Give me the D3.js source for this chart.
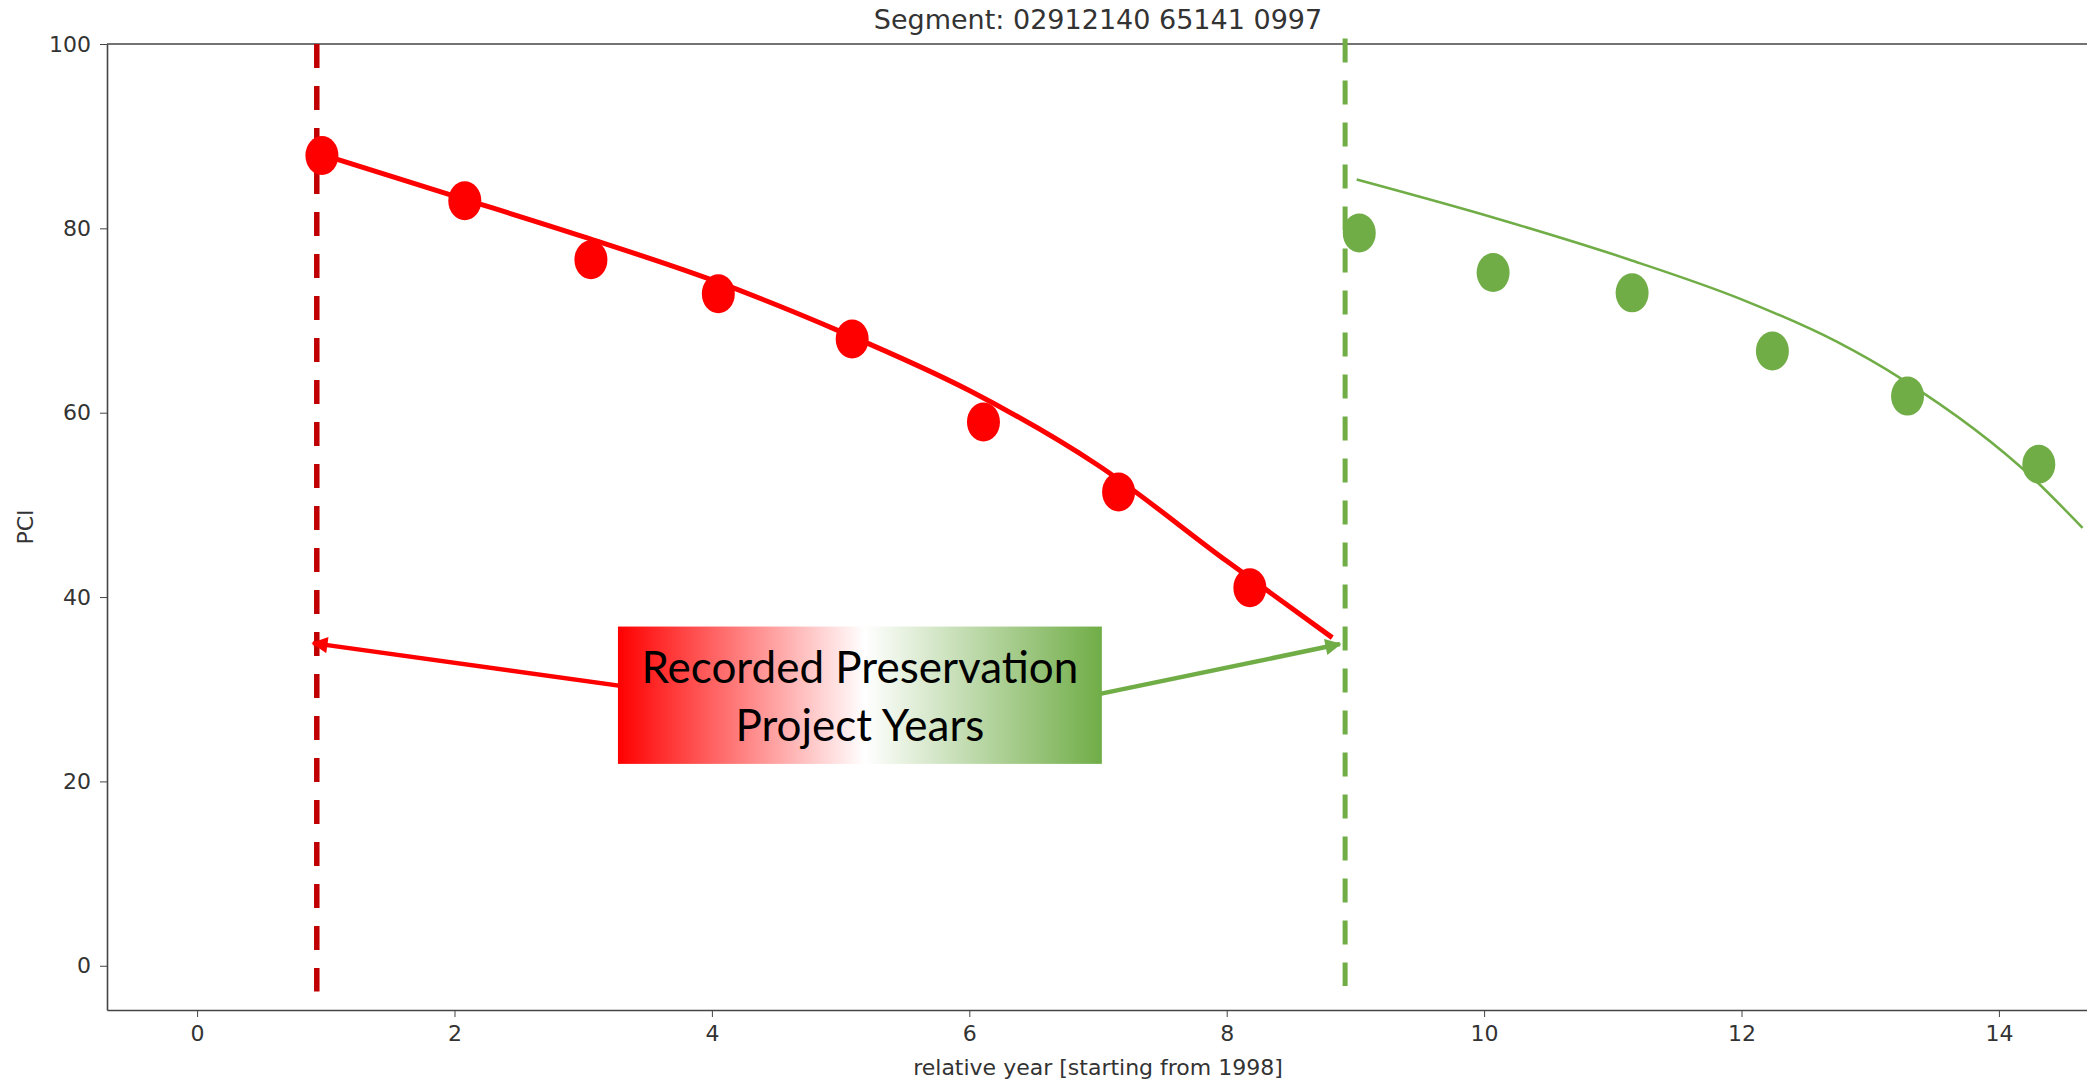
<!DOCTYPE html>
<html>
<head>
<meta charset="utf-8">
<script src="https://cdn.jsdelivr.net/npm/d3@7"></script>
<style>
  html, body { margin: 0; padding: 0; background: #fff; }
  svg { display: block; }
  .axis text { font-family: "DejaVu Sans", sans-serif; font-size: 22px; fill: #333; }
  .axis path, .axis line { stroke: #444; }
  .lbl { font-family: "DejaVu Sans", sans-serif; fill: #333; }
</style>
</head>
<body>
<svg id="chart" width="2087" height="1082"></svg>
<script>
// observed PCI (red = before project, green = after)
const redYears = [0.97, 2.08, 3.06, 4.05, 5.09, 6.11, 7.16, 8.18];
const redPCI = [87.9, 83.0, 76.6, 72.9, 68.0, 59.0, 51.4, 41.0];
const greenYears = [9.03, 10.07, 11.15, 12.24, 13.29, 14.31];
const greenPCI = [79.5, 75.2, 73.0, 66.7, 61.8, 54.4];

// fitted curves
const redFitYears = [0.97, 2, 3, 4, 5, 6, 7, 8, 8.82];
const redFitPCI = [88.0, 83.5, 79.1, 74.4, 68.8, 62.4, 54.3, 43.9, 35.6];
const greenFitYears = [9.01, 10.09, 11.13, 12.0, 12.74, 13.24, 14.28, 14.65];
const greenFitPCI = [85.3, 81.1, 76.6, 72.3, 67.7, 63.7, 52.7, 47.5];

// recorded preservation project years
const projectYears = [0.93, 8.92];
const projectTop = [100, 100.6];
const projectBottom = [-2.8, -2.2];

const xTicks = [0, 2, 4, 6, 8, 10, 12, 14];
const yTicks = [0, 20, 40, 60, 80, 100];

const title = 'Segment: 02912140 65141 0997';
const xTitle = 'relative year [starting from 1998]';
const yTitle = 'PCI';
const noteLines = ['Recorded Preservation', 'Project Years'];

const RED = '#ff0000', DARKRED = '#c00000', GREEN = '#70ad47';

const svg = d3.select('#chart');
const mL = 107, mR = 2089, mT = 44, mB = 1010;

const x = d3.scaleLinear().domain([-0.7, 14.7]).range([mL, mR]);
const y = d3.scaleLinear().domain([-4.8, 100]).range([mB, mT]);

// axes
svg.append('g')
  .attr('class', 'axis')
  .attr('transform', 'translate(0,' + mB + ')')
  .call(d3.axisBottom(x).tickValues(xTicks).tickSize(7).tickPadding(8).tickSizeOuter(0))
  .call(g => g.select('.domain').attr('stroke-width', 1.6));

svg.append('g')
  .attr('class', 'axis')
  .attr('transform', 'translate(' + mL + ',0)')
  .call(d3.axisLeft(y).tickValues(yTicks).tickSize(7).tickPadding(9).tickSizeOuter(0))
  .call(g => g.select('.domain').attr('stroke-width', 1.6));

svg.append('line')
  .attr('x1', mL).attr('x2', mR)
  .attr('y1', mT).attr('y2', mT)
  .attr('stroke', '#444').attr('stroke-width', 1.6);

svg.append('text').attr('class', 'lbl')
  .attr('x', (mL + mR) / 2).attr('y', 29)
  .attr('text-anchor', 'middle').attr('font-size', 27)
  .text(title);

svg.append('text').attr('class', 'lbl')
  .attr('x', (mL + mR) / 2).attr('y', 1075)
  .attr('text-anchor', 'middle').attr('font-size', 22)
  .text(xTitle);

svg.append('text').attr('class', 'lbl')
  .attr('transform', 'translate(33,' + ((mT + mB) / 2) + ') rotate(-90)')
  .attr('text-anchor', 'middle').attr('font-size', 22)
  .text(yTitle);

// project year dashed lines
const projColors = [DARKRED, GREEN];
projectYears.forEach((yr, i) => {
  svg.append('line')
    .attr('x1', x(yr)).attr('x2', x(yr))
    .attr('y1', y(projectTop[i])).attr('y2', y(projectBottom[i]))
    .attr('stroke', projColors[i])
    .attr('stroke-width', i === 0 ? 5.5 : 5)
    .attr('stroke-dasharray', '24 18');
});

const line = d3.line().x(d => x(d[0])).y(d => y(d[1])).curve(d3.curveMonotoneX);

svg.append('path')
  .datum(d3.zip(redFitYears, redFitPCI))
  .attr('d', line)
  .attr('fill', 'none').attr('stroke', RED).attr('stroke-width', 5);

svg.append('path')
  .datum(d3.zip(greenFitYears, greenFitPCI))
  .attr('d', line)
  .attr('fill', 'none').attr('stroke', GREEN).attr('stroke-width', 2.5);

svg.selectAll('.pt-red')
  .data(d3.zip(redYears, redPCI)).enter()
  .append('ellipse')
  .attr('class', 'pt-red')
  .attr('cx', d => x(d[0])).attr('cy', d => y(d[1]))
  .attr('rx', 16.5).attr('ry', 19.5)
  .attr('fill', RED);

svg.selectAll('.pt-green')
  .data(d3.zip(greenYears, greenPCI)).enter()
  .append('ellipse')
  .attr('class', 'pt-green')
  .attr('cx', d => x(d[0])).attr('cy', d => y(d[1]))
  .attr('rx', 16.5).attr('ry', 19.5)
  .attr('fill', GREEN);

// arrows from the note box to the project lines
const defs = svg.append('defs');
[['arrRed', RED], ['arrGreen', GREEN]].forEach(([id, c]) => {
  defs.append('marker')
    .attr('id', id)
    .attr('viewBox', '0 0 10 10')
    .attr('refX', 9).attr('refY', 5)
    .attr('markerWidth', 4.2).attr('markerHeight', 3.6)
    .attr('markerUnits', 'strokeWidth')
    .attr('orient', 'auto')
    .append('path').attr('d', 'M0,0 L10,5 L0,10 Z').attr('fill', c);
});

const noteBox = { x0: 3.27, x1: 7.03, y0: 36.8, y1: 21.9 };

svg.append('line')
  .attr('x1', x(4.2)).attr('y1', y(28.6))
  .attr('x2', x(0.90)).attr('y2', y(35.0))
  .attr('stroke', RED).attr('stroke-width', 4.5)
  .attr('marker-end', 'url(#arrRed)');

svg.append('line')
  .attr('x1', x(6.5)).attr('y1', y(28.0))
  .attr('x2', x(8.88)).attr('y2', y(34.9))
  .attr('stroke', GREEN).attr('stroke-width', 4.5)
  .attr('marker-end', 'url(#arrGreen)');

const grad = defs.append('linearGradient').attr('id', 'noteGrad')
  .attr('x1', '0%').attr('x2', '100%').attr('y1', '0%').attr('y2', '0%');
grad.append('stop').attr('offset', '0%').attr('stop-color', '#ff0000');
grad.append('stop').attr('offset', '51%').attr('stop-color', '#ffffff');
grad.append('stop').attr('offset', '100%').attr('stop-color', GREEN);

svg.append('rect')
  .attr('x', x(noteBox.x0)).attr('y', y(noteBox.y0))
  .attr('width', x(noteBox.x1) - x(noteBox.x0))
  .attr('height', y(noteBox.y1) - y(noteBox.y0))
  .attr('fill', 'url(#noteGrad)');

const noteX = x((noteBox.x0 + noteBox.x1) / 2);
noteLines.forEach((t, i) => {
  svg.append('text')
    .attr('x', noteX).attr('y', 683 + i * 58)
    .attr('text-anchor', 'middle')
    .attr('font-family', 'Lato, "Open Sans", sans-serif')
    .attr('font-size', 44)
    .attr('fill', '#000')
    .text(t);
});
</script>
</body>
</html>
